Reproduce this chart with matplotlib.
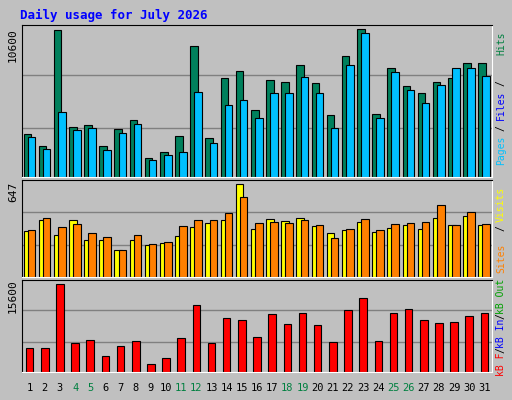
import matplotlib.pyplot as plt
import numpy as np

days = list(range(1, 32))
weekend = [4, 5, 11, 12, 18, 19, 25, 26]

# values (pixel heights scaled to the axis maxima)
hits = [43, 31, 147, 50, 52, 31, 48, 57, 19, 25, 41, 131, 39, 99, 106, 67,
        97, 95, 112, 94, 62, 121, 148, 63, 109, 91, 84, 95, 99, 114, 114]
files = [40, 28, 65, 47, 49, 27, 44, 53, 17, 22, 25, 85, 34, 72, 77, 59,
         84, 84, 100, 84, 49, 112, 144, 59, 105, 87, 74, 92, 109, 109, 101]
visits = [46, 57, 42, 57, 37, 37, 27, 37, 32, 34, 41, 50, 54, 57, 93, 48,
          58, 56, 59, 51, 44, 47, 55, 45, 49, 52, 48, 59, 52, 61, 52]
sites = [47, 59, 50, 53, 44, 40, 27, 42, 33, 35, 51, 57, 57, 64, 80, 54,
         55, 54, 57, 52, 39, 48, 58, 47, 53, 54, 55, 72, 52, 65, 53]
kbytes = [24, 24, 88, 29, 32, 16, 26, 31, 8, 14, 34, 67, 29, 54, 52, 35,
          58, 48, 59, 47, 30, 62, 74, 31, 59, 63, 52, 49, 50, 56, 59]
hits = np.array(hits) * 10600 / 148
files = np.array(files) * 10600 / 148
visits = np.array(visits) * 647 / 93
sites = np.array(sites) * 647 / 93
kbytes = np.array(kbytes) * 15600 / 88

W, H = 512, 400
fig = plt.figure(figsize=(W / 100, H / 100), dpi=100, facecolor='#C0C0C0')
mono = 'DejaVu Sans Mono'


def fx(x):
    return x / W


def fy(y):
    return 1 - y / H


def panel(y0, y1):
    ax = fig.add_axes([fx(22), fy(y1), fx(492) - fx(22), fy(y0) - fy(y1)])
    ax.set_facecolor('#C0C0C0')
    ax.set_xlim(0.5, 31.5)
    ax.set_xticks([])
    ax.set_yticks([])
    for s in ax.spines.values():
        s.set_color('black')
    ax.spines['bottom'].set_color('white')
    ax.spines['right'].set_color('white')
    return ax


x = np.array(days)
ax1 = panel(25, 177)
ax1.set_ylim(0, 10600 * 152 / 148)
for g in [0.32, 0.67]:
    ax1.axhline(10600 * 152 / 148 * g, color='#808080', lw=1, zorder=0)
ax1.bar(x - 0.15, hits, width=0.5, color='#00805C', edgecolor='black', lw=0.8)
ax1.bar(x + 0.12, files, width=0.5, color='#00C0FF', edgecolor='black', lw=0.8)

ax2 = panel(180, 277)
ax2.set_ylim(0, 647 * 97 / 93)
for g in [0.33, 0.67]:
    ax2.axhline(647 * 97 / 93 * g, color='#808080', lw=1, zorder=0)
ax2.bar(x - 0.15, visits, width=0.5, color='#FFFF00', edgecolor='black', lw=0.8)
ax2.bar(x + 0.12, sites, width=0.5, color='#FF8000', edgecolor='black', lw=0.8)

ax3 = panel(280, 372)
ax3.set_ylim(0, 15600 * 92 / 88)
for g in [0.33, 0.67]:
    ax3.axhline(15600 * 92 / 88 * g, color='#808080', lw=1, zorder=0)
ax3.bar(x, kbytes, width=0.5, color='#FF0000', edgecolor='black', lw=0.8)

fig.text(fx(20), fy(15), 'Daily usage for July 2026', color='#0000FF',
         family=mono, weight='bold', fontsize=9, va='center')
fig.text(fx(13), fy(45), '10600', rotation=90, family=mono, fontsize=8, ha='center', va='center')
fig.text(fx(13), fy(192), '647', rotation=90, family=mono, fontsize=8, ha='center', va='center')
fig.text(fx(13), fy(296), '15600', rotation=90, family=mono, fontsize=8, ha='center', va='center')

for d in days:
    px = 22 + (d - 0.5) * 470 / 31
    fig.text(fx(px), fy(388), str(d), ha='center', va='center', fontsize=7.5,
             family=mono, color='#008040' if d in weekend else 'black')

# right hand legend labels (rotated, read bottom-to-top)
labels = [
    (150, 'Pages', '#00C0FF'), (128, '/', 'black'), (105, 'Files', '#0000FF'),
    (83, '/', 'black'), (43, 'Hits', '#008040'),
    (258, 'Sites', '#FF8000'), (228, '/', 'black'), (204, 'Visits', '#FFFF00'),
    (364, 'kB F', '#FF0000'), (350, '/', 'black'), (333, 'kB In', '#0000FF'),
    (316, '/', 'black'), (296, 'kB Out', '#00A000'),
]
for y, t, c in labels:
    fig.text(fx(501), fy(y), t, rotation=90, color=c, family=mono, fontsize=7,
             ha='center', va='center')

fig.savefig('out.png', dpi=100, facecolor=fig.get_facecolor())
